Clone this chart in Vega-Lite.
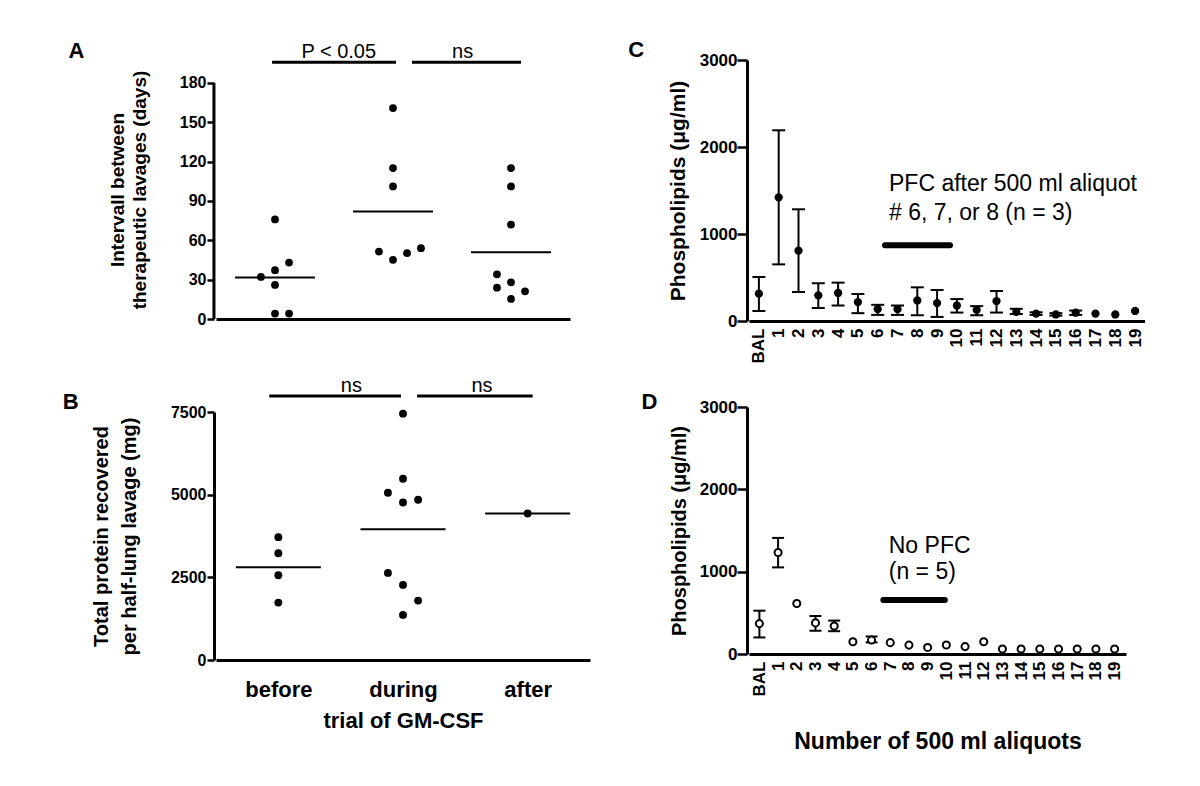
{
  "$schema": "https://vega.github.io/schema/vega-lite/v6.json",
  "background": "white",
  "padding": {"left": 62, "top": 39, "right": 0, "bottom": 0},
  "config": {
    "font": "Liberation Sans",
    "view": {"stroke": null, "fill": null},
    "axis": {
      "domain": true, "domainColor": "#000000", "domainWidth": 3, "domainOpacity": 1, "tickColor": "black", "tickWidth": 2.5, "zindex": 2,
      "labelColor": "black", "titleColor": "black", "labelFont": "Liberation Sans", "titleFont": "Liberation Sans",
      "labelFontWeight": "bold", "titleFontWeight": "bold", "grid": false, "labelFlush": false, "labelOverlap": false
    },
    "text": {"font": "Liberation Sans", "color": "black"}
  },
  "datasets": {
    "A_points": [
      {"trial": "before", "position": 1.0, "days": 75.9},
      {"trial": "before", "position": 1.119, "days": 43.0},
      {"trial": "before", "position": 1.0, "days": 37.2},
      {"trial": "before", "position": 0.881, "days": 32.1},
      {"trial": "before", "position": 1.0, "days": 26.0},
      {"trial": "before", "position": 1.0, "days": 4.1},
      {"trial": "before", "position": 1.119, "days": 4.1},
      {"trial": "during", "position": 2.0, "days": 160.9},
      {"trial": "during", "position": 2.0, "days": 115.1},
      {"trial": "during", "position": 2.0, "days": 101.1},
      {"trial": "during", "position": 1.881, "days": 51.4},
      {"trial": "during", "position": 2.0, "days": 45.1},
      {"trial": "during", "position": 2.119, "days": 50.2},
      {"trial": "during", "position": 2.237, "days": 54.0},
      {"trial": "after", "position": 3.0, "days": 115.1},
      {"trial": "after", "position": 3.0, "days": 101.1},
      {"trial": "after", "position": 3.0, "days": 72.0},
      {"trial": "after", "position": 2.881, "days": 34.1},
      {"trial": "after", "position": 3.0, "days": 28.0},
      {"trial": "after", "position": 2.881, "days": 23.9},
      {"trial": "after", "position": 3.119, "days": 21.1},
      {"trial": "after", "position": 3.0, "days": 15.3}
    ],
    "A_medians": [
      {"trial": "before", "code": 1, "median": 31.6},
      {"trial": "during", "code": 2, "median": 82.0},
      {"trial": "after", "code": 3, "median": 50.9}
    ],
    "A_yaxis": [{"y_low": 0, "y_high": 180, "x_left": 0.47, "x_right": 0.4955}],
    "A_sig": [
      {"from": 0.975, "to": 2.025, "level": 195.8, "label": "P < 0.05", "label_x": 1.54, "label_y": 199},
      {"from": 2.161, "to": 3.085, "level": 195.8, "label": "ns", "label_x": 2.59, "label_y": 199}
    ],
    "A_letter": [{"label": "A", "x": -0.682, "y": 199}],
    "B_points": [
      {"trial": "before", "position": 1.0, "protein": 3715},
      {"trial": "before", "position": 1.0, "protein": 3230},
      {"trial": "before", "position": 1.0, "protein": 2564},
      {"trial": "before", "position": 1.0, "protein": 1736},
      {"trial": "during", "position": 2.0, "protein": 7450},
      {"trial": "during", "position": 2.0, "protein": 5481},
      {"trial": "during", "position": 1.879, "protein": 5057},
      {"trial": "during", "position": 2.0, "protein": 4764},
      {"trial": "during", "position": 2.121, "protein": 4845},
      {"trial": "during", "position": 1.879, "protein": 2634},
      {"trial": "during", "position": 2.0, "protein": 2271},
      {"trial": "during", "position": 2.121, "protein": 1797},
      {"trial": "during", "position": 2.0, "protein": 1363},
      {"trial": "after", "position": 3.0, "protein": 4431}
    ],
    "B_medians": [
      {"trial": "before", "code": 1, "median": 2806},
      {"trial": "during", "code": 2, "median": 3957},
      {"trial": "after", "code": 3, "median": 4431}
    ],
    "B_sig": [
      {"from": 0.927, "to": 1.984, "level": 7984, "label": "ns", "label_x": 1.586, "label_y": 8096},
      {"from": 2.113, "to": 3.04, "level": 7984, "label": "ns", "label_x": 2.634, "label_y": 8096}
    ],
    "B_letter": [{"label": "B", "x": -0.665, "y": 7591}],
    "C_data": [
      {"aliquot": 0, "mean": 314, "lo": 115, "hi": 506},
      {"aliquot": 1, "mean": 1421, "lo": 651, "hi": 2192},
      {"aliquot": 2, "mean": 808, "lo": 333, "hi": 1284},
      {"aliquot": 3, "mean": 295, "lo": 148, "hi": 435},
      {"aliquot": 4, "mean": 322, "lo": 178, "hi": 441},
      {"aliquot": 5, "mean": 217, "lo": 90, "hi": 310},
      {"aliquot": 6, "mean": 136, "lo": 70, "hi": 186},
      {"aliquot": 7, "mean": 136, "lo": 70, "hi": 178},
      {"aliquot": 8, "mean": 236, "lo": 66, "hi": 387},
      {"aliquot": 9, "mean": 206, "lo": 47, "hi": 356},
      {"aliquot": 10, "mean": 178, "lo": 97, "hi": 252},
      {"aliquot": 11, "mean": 128, "lo": 66, "hi": 171},
      {"aliquot": 12, "mean": 229, "lo": 97, "hi": 345},
      {"aliquot": 13, "mean": 105, "lo": 80, "hi": 140},
      {"aliquot": 14, "mean": 85, "lo": 70, "hi": 100},
      {"aliquot": 15, "mean": 75, "lo": 62, "hi": 90},
      {"aliquot": 16, "mean": 95, "lo": 70, "hi": 120},
      {"aliquot": 17, "mean": 85, "lo": null, "hi": null},
      {"aliquot": 18, "mean": 75, "lo": null, "hi": null},
      {"aliquot": 19, "mean": 115, "lo": null, "hi": null}
    ],
    "C_bar": [{"from": 6.37, "to": 9.65, "level": 870}],
    "C_text": [
      {"text": "PFC after 500 ml aliquot", "x": 6.57, "y": 1490},
      {"text": "# 6, 7, or 8 (n = 3)", "x": 6.57, "y": 1162}
    ],
    "C_letter": [{"label": "C", "x": -6.2, "y": 3029}],
    "D_data": [
      {"aliquot": 0, "mean": 369, "lo": 201, "hi": 526},
      {"aliquot": 1, "mean": 1233, "lo": 1052, "hi": 1410},
      {"aliquot": 2, "mean": 614, "lo": null, "hi": null},
      {"aliquot": 3, "mean": 378, "lo": 281, "hi": 462},
      {"aliquot": 4, "mean": 341, "lo": 277, "hi": 406},
      {"aliquot": 5, "mean": 149, "lo": null, "hi": null},
      {"aliquot": 6, "mean": 169, "lo": 141, "hi": 213},
      {"aliquot": 7, "mean": 138, "lo": null, "hi": null},
      {"aliquot": 8, "mean": 108, "lo": null, "hi": null},
      {"aliquot": 9, "mean": 80, "lo": null, "hi": null},
      {"aliquot": 10, "mean": 110, "lo": null, "hi": null},
      {"aliquot": 11, "mean": 90, "lo": null, "hi": null},
      {"aliquot": 12, "mean": 149, "lo": null, "hi": null},
      {"aliquot": 13, "mean": 60, "lo": null, "hi": null},
      {"aliquot": 14, "mean": 60, "lo": null, "hi": null},
      {"aliquot": 15, "mean": 60, "lo": null, "hi": null},
      {"aliquot": 16, "mean": 60, "lo": null, "hi": null},
      {"aliquot": 17, "mean": 60, "lo": null, "hi": null},
      {"aliquot": 18, "mean": 60, "lo": null, "hi": null},
      {"aliquot": 19, "mean": 60, "lo": null, "hi": null}
    ],
    "D_bar": [{"from": 6.63, "to": 9.92, "level": 655}],
    "D_text": [
      {"text": "No PFC", "x": 6.92, "y": 1225},
      {"text": "(n = 5)", "x": 6.92, "y": 912}
    ],
    "D_letter": [{"label": "D", "x": -5.88, "y": 2976}]
  },
  "spacing": 38,
  "hconcat": [
    {
      "spacing": 49,
      "vconcat": [
        {
          "width": 354, "height": 259,
          "layer": [
            {
              "data": {"name": "A_points"},
              "mark": {"type": "circle", "size": 60, "color": "black", "opacity": 1},
              "encoding": {
                "x": {"field": "position", "type": "quantitative", "scale": {"domain": [0.5, 3.5], "nice": false, "zero": false},
                      "axis": {"title": null, "labels": false, "ticks": false, "tickSize": 0}},
                "y": {"field": "days", "type": "quantitative", "scale": {"domain": [0, 197.54], "nice": false},
                      "axis": {"values": [0, 30, 60, 90, 120, 150, 180], "tickCount": 40, "format": "d", "domain": false, "offset": 2,
                               "title": ["Intervall between", "therapeutic lavages (days)"],
                               "titleFontSize": 19, "titleLineHeight": 22, "titlePadding": 30, "labelFontSize": 16, "tickSize": 7, "labelPadding": 1, "labelOverlap": false}}
              }
            },
            {
              "data": {"name": "A_medians"},
              "mark": {"type": "tick", "orient": "horizontal", "size": 80, "thickness": 2, "color": "black", "opacity": 1},
              "encoding": {
                "x": {"field": "code", "type": "quantitative"},
                "y": {"field": "median", "type": "quantitative"}
              }
            },
            {
              "data": {"name": "A_sig"},
              "mark": {"type": "rule", "strokeWidth": 3, "color": "black"},
              "encoding": {
                "x": {"field": "from", "type": "quantitative"},
                "x2": {"field": "to"},
                "y": {"field": "level", "type": "quantitative"}
              }
            },
            {
              "data": {"name": "A_sig"},
              "mark": {"type": "text", "fontSize": 20, "align": "center", "baseline": "alphabetic"},
              "encoding": {
                "x": {"field": "label_x", "type": "quantitative"},
                "y": {"field": "label_y", "type": "quantitative"},
                "text": {"field": "label"}
              }
            },
            {
              "data": {"name": "A_letter"},
              "mark": {"type": "text", "fontSize": 22, "fontWeight": "bold", "align": "center", "baseline": "alphabetic"},
              "encoding": {
                "x": {"field": "x", "type": "quantitative"},
                "y": {"field": "y", "type": "quantitative"},
                "text": {"field": "label"}
              }
            },
            {
              "data": {"name": "A_yaxis"},
              "mark": {"type": "rect", "color": "black", "opacity": 1},
              "encoding": {
                "x": {"field": "x_left", "type": "quantitative"},
                "x2": {"field": "x_right"},
                "y": {"field": "y_high", "type": "quantitative"},
                "y2": {"field": "y_low"}
              }
            }
          ]
        },
        {
          "width": 374, "height": 248,
          "layer": [
            {
              "data": {"name": "B_points"},
              "mark": {"type": "circle", "size": 62, "color": "black", "opacity": 1},
              "encoding": {
                "x": {"field": "position", "type": "quantitative", "scale": {"domain": [0.5, 3.5], "nice": false, "zero": false},
                      "axis": {"title": "trial of GM-CSF", "values": [1, 2, 3], "tickCount": 40,
                               "labelExpr": "datum.value == 1 ? 'before' : datum.value == 2 ? 'during' : 'after'",
                               "ticks": false, "tickSize": 0, "labelFontSize": 22, "labelPadding": 19,
                               "titleFontSize": 22, "titlePadding": 10, "labelOverlap": false}},
                "y": {"field": "protein", "type": "quantitative", "scale": {"domain": [0, 7500], "nice": false},
                      "axis": {"values": [0, 2500, 5000, 7500], "tickCount": 40, "format": "d", "domain": true, "offset": 2, "title": ["Total protein recovered", "per half-lung lavage (mg)"],
                               "titleFontSize": 20, "titleLineHeight": 28, "titlePadding": 31, "labelFontSize": 16, "tickSize": 7, "labelPadding": 1, "labelOverlap": false}}
              }
            },
            {
              "data": {"name": "B_medians"},
              "mark": {"type": "tick", "orient": "horizontal", "size": 85, "thickness": 2, "color": "black", "opacity": 1},
              "encoding": {
                "x": {"field": "code", "type": "quantitative"},
                "y": {"field": "median", "type": "quantitative"}
              }
            },
            {
              "data": {"name": "B_sig"},
              "mark": {"type": "rule", "strokeWidth": 3, "color": "black"},
              "encoding": {
                "x": {"field": "from", "type": "quantitative"},
                "x2": {"field": "to"},
                "y": {"field": "level", "type": "quantitative"}
              }
            },
            {
              "data": {"name": "B_sig"},
              "mark": {"type": "text", "fontSize": 20, "align": "center", "baseline": "alphabetic"},
              "encoding": {
                "x": {"field": "label_x", "type": "quantitative"},
                "y": {"field": "label_y", "type": "quantitative"},
                "text": {"field": "label"}
              }
            },
            {
              "data": {"name": "B_letter"},
              "mark": {"type": "text", "fontSize": 22, "fontWeight": "bold", "align": "center", "baseline": "alphabetic"},
              "encoding": {
                "x": {"field": "x", "type": "quantitative"},
                "y": {"field": "y", "type": "quantitative"},
                "text": {"field": "label"}
              }
            }
          ]
        }
      ]
    },
    {
      "spacing": 27,
      "vconcat": [
        {
          "width": 396, "height": 261,
          "layer": [
            {
              "data": {"name": "C_data"},
              "transform": [{"filter": "datum.lo != null"}],
              "mark": {"type": "rule", "strokeWidth": 2, "color": "black"},
              "encoding": {
                "x": {"field": "aliquot", "type": "quantitative", "scale": {"domain": [-0.5, 19.5], "nice": false, "zero": false},
                      "axis": {"title": null, "values": [0,1,2,3,4,5,6,7,8,9,10,11,12,13,14,15,16,17,18,19], "tickCount": 40, "format": "d",
                               "labelExpr": "datum.value == 0 ? 'BAL' : datum.label", "labelAngle": 270,
                               "ticks": false, "tickSize": 0, "labelFontSize": 17, "labelPadding": 7, "labelOverlap": false}},
                "y": {"field": "lo", "type": "quantitative", "scale": {"domain": [0, 3000], "nice": false},
                      "axis": {"values": [0, 1000, 2000, 3000], "tickCount": 40, "format": "d", "domain": true, "offset": 2, "title": "Phospholipids (μg/ml)",
                               "titleFontSize": 21, "titlePadding": 11, "labelFontSize": 17, "tickSize": 10, "labelPadding": 0, "labelOverlap": false}},
                "y2": {"field": "hi"}
              }
            },
            {
              "data": {"name": "C_data"},
              "transform": [{"filter": "datum.lo != null"}],
              "mark": {"type": "tick", "orient": "horizontal", "size": 13, "thickness": 2, "color": "black", "opacity": 1},
              "encoding": {
                "x": {"field": "aliquot", "type": "quantitative"},
                "y": {"field": "lo", "type": "quantitative"}
              }
            },
            {
              "data": {"name": "C_data"},
              "transform": [{"filter": "datum.hi != null"}],
              "mark": {"type": "tick", "orient": "horizontal", "size": 13, "thickness": 2, "color": "black", "opacity": 1},
              "encoding": {
                "x": {"field": "aliquot", "type": "quantitative"},
                "y": {"field": "hi", "type": "quantitative"}
              }
            },
            {
              "data": {"name": "C_data"},
              "mark": {"type": "circle", "size": 68, "color": "black", "opacity": 1},
              "encoding": {
                "x": {"field": "aliquot", "type": "quantitative"},
                "y": {"field": "mean", "type": "quantitative"}
              }
            },
            {
              "data": {"name": "C_bar"},
              "mark": {"type": "rule", "strokeWidth": 6, "color": "black", "strokeCap": "round"},
              "encoding": {
                "x": {"field": "from", "type": "quantitative"},
                "x2": {"field": "to"},
                "y": {"field": "level", "type": "quantitative"}
              }
            },
            {
              "data": {"name": "C_text"},
              "mark": {"type": "text", "fontSize": 23, "align": "left", "baseline": "alphabetic"},
              "encoding": {
                "x": {"field": "x", "type": "quantitative"},
                "y": {"field": "y", "type": "quantitative"},
                "text": {"field": "text"}
              }
            },
            {
              "data": {"name": "C_letter"},
              "mark": {"type": "text", "fontSize": 22, "fontWeight": "bold", "align": "center", "baseline": "alphabetic"},
              "encoding": {
                "x": {"field": "x", "type": "quantitative"},
                "y": {"field": "y", "type": "quantitative"},
                "text": {"field": "label"}
              }
            }
          ]
        },
        {
          "width": 377, "height": 247,
          "layer": [
            {
              "data": {"name": "D_data"},
              "transform": [{"filter": "datum.lo != null"}],
              "mark": {"type": "rule", "strokeWidth": 2, "color": "black"},
              "encoding": {
                "x": {"field": "aliquot", "type": "quantitative", "scale": {"domain": [-0.556, 19.61], "nice": false, "zero": false},
                      "axis": {"title": "Number of 500 ml aliquots", "values": [0,1,2,3,4,5,6,7,8,9,10,11,12,13,14,15,16,17,18,19], "tickCount": 40, "format": "d",
                               "labelExpr": "datum.value == 0 ? 'BAL' : datum.label", "labelAngle": 270,
                               "ticks": false, "tickSize": 0, "labelFontSize": 17, "labelPadding": 7,
                               "titleFontSize": 23, "titlePadding": 35, "labelOverlap": false}},
                "y": {"field": "lo", "type": "quantitative", "scale": {"domain": [0, 3000], "nice": false},
                      "axis": {"values": [0, 1000, 2000, 3000], "tickCount": 40, "format": "d", "domain": true, "offset": 2, "title": "Phospholipids (μg/ml)",
                               "titleFontSize": 20, "titlePadding": 10, "labelFontSize": 17, "tickSize": 10, "labelPadding": 0, "labelOverlap": false}},
                "y2": {"field": "hi"}
              }
            },
            {
              "data": {"name": "D_data"},
              "transform": [{"filter": "datum.lo != null"}],
              "mark": {"type": "tick", "orient": "horizontal", "size": 12, "thickness": 2, "color": "black", "opacity": 1},
              "encoding": {
                "x": {"field": "aliquot", "type": "quantitative"},
                "y": {"field": "lo", "type": "quantitative"}
              }
            },
            {
              "data": {"name": "D_data"},
              "transform": [{"filter": "datum.hi != null"}],
              "mark": {"type": "tick", "orient": "horizontal", "size": 12, "thickness": 2, "color": "black", "opacity": 1},
              "encoding": {
                "x": {"field": "aliquot", "type": "quantitative"},
                "y": {"field": "hi", "type": "quantitative"}
              }
            },
            {
              "data": {"name": "D_data"},
              "mark": {"type": "point", "shape": "circle", "size": 50, "filled": true, "fill": "white", "stroke": "black", "strokeWidth": 2, "opacity": 1},
              "encoding": {
                "x": {"field": "aliquot", "type": "quantitative"},
                "y": {"field": "mean", "type": "quantitative"}
              }
            },
            {
              "data": {"name": "D_bar"},
              "mark": {"type": "rule", "strokeWidth": 6, "color": "black", "strokeCap": "round"},
              "encoding": {
                "x": {"field": "from", "type": "quantitative"},
                "x2": {"field": "to"},
                "y": {"field": "level", "type": "quantitative"}
              }
            },
            {
              "data": {"name": "D_text"},
              "mark": {"type": "text", "fontSize": 23, "align": "left", "baseline": "alphabetic"},
              "encoding": {
                "x": {"field": "x", "type": "quantitative"},
                "y": {"field": "y", "type": "quantitative"},
                "text": {"field": "text"}
              }
            },
            {
              "data": {"name": "D_letter"},
              "mark": {"type": "text", "fontSize": 22, "fontWeight": "bold", "align": "center", "baseline": "alphabetic"},
              "encoding": {
                "x": {"field": "x", "type": "quantitative"},
                "y": {"field": "y", "type": "quantitative"},
                "text": {"field": "label"}
              }
            }
          ]
        }
      ]
    }
  ]
}
